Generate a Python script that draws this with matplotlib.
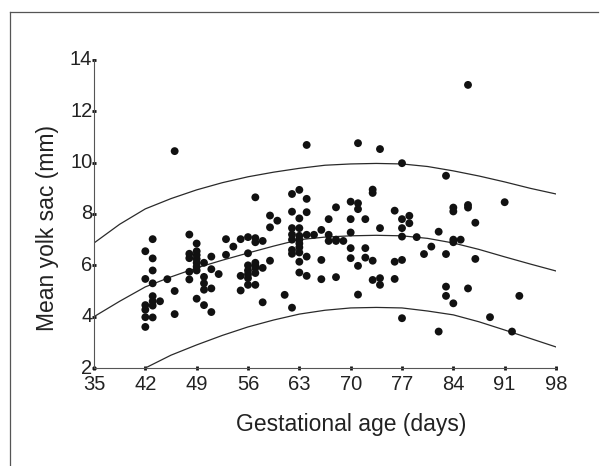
import numpy as np
import matplotlib

matplotlib.use("AGG")
from matplotlib import pyplot
from matplotlib.lines import Line2D
from matplotlib.transforms import ScaledTranslation

# gestational age (days) and mean yolk sac diameter (mm)
age_days = [42] * 6 + [43] * 8 + [44, 45] + [46] * 3 + [48] * 5 + [49] * 8 + \
    [50] * 5 + [51] * 4 + [52] + [53] * 2 + [54] + [55] * 3 + [56] * 7 + \
    [57] * 8 + [58] * 3 + [59] * 3 + [60, 61] + [62] * 8 + [63] * 10 + \
    [64] * 6 + [65] + [66] * 3 + [67] * 3 + [68] * 4 + [69] + [70] * 5 + \
    [71] * 5 + [72] * 3 + [73] * 4 + [74] * 4 + [76] * 3 + [77] * 6 + \
    [78] * 2 + [79, 80, 81] + [82] * 2 + [83] * 4 + [84] * 5 + [85] + \
    [86] * 4 + [87] * 2 + [89, 91, 92, 93]
yolk_mm = [6.55, 5.47, 4.45, 4.27, 3.98, 3.6,
           7.02, 6.27, 5.8, 5.3, 4.8, 4.6, 4.43, 3.97,
           4.6, 5.46,
           10.45, 5.0, 4.1,
           7.2, 6.45, 6.28, 5.75, 5.45,
           6.85, 6.55, 6.4, 6.25, 6.1, 5.95, 5.8, 4.7,
           6.1, 5.55, 5.3, 5.05, 4.45,
           6.34, 5.85, 5.1, 4.18,
           5.66,
           7.02, 6.41,
           6.73,
           7.02, 5.59, 5.02,
           7.1, 6.47, 6.0, 5.8, 5.65, 5.5, 5.24,
           8.65, 7.06, 6.9, 6.1, 6.0, 5.9, 5.7, 5.24,
           6.95, 5.9, 4.56,
           7.94, 7.48, 6.18,
           7.74, 4.85,
           8.78, 8.09, 7.45, 7.2, 7.0, 6.6, 6.45, 4.35,
           8.94, 7.83, 7.45, 7.15, 7.0, 6.85, 6.7, 6.5, 6.14, 5.72,
           10.69, 8.59, 8.07, 7.19, 6.34, 5.59,
           7.19,
           7.38, 6.21, 5.46,
           7.8, 7.19, 6.95,
           8.26, 7.0, 6.95, 5.54,
           6.95,
           8.48, 7.8, 7.28, 6.67, 6.28,
           10.76, 8.42, 8.19, 5.98, 4.86,
           7.8, 6.67, 6.3,
           8.95, 8.82, 6.18, 5.43,
           10.53, 7.45, 5.5, 5.24,
           8.13, 6.14, 5.47,
           9.98, 7.8, 7.45, 7.12, 6.21, 3.94,
           7.93, 7.64,
           7.1, 6.44, 6.73,
           7.31, 3.42,
           9.49, 6.44, 5.17, 4.81,
           8.25, 8.1, 7.0, 6.9, 4.52,
           7.0,
           13.03, 8.35, 8.25, 5.1,
           7.66, 6.25,
           3.98, 8.46, 3.42, 4.81]

# reference curves (mean and limits), read at half-week steps
curve_days = [35, 38.5, 42, 45.5, 49, 52.5, 56, 59.5, 63, 66.5, 70, 73.5,
              77, 80.5, 84, 87.5, 91, 94.5, 98]
curve_mean = [4.0, 4.6, 5.16, 5.55, 5.9, 6.2, 6.48, 6.75, 7.0, 7.1, 7.15,
              7.17, 7.15, 7.05, 6.87, 6.62, 6.33, 6.05, 5.78]
curve_upper = [6.87, 7.6, 8.2, 8.6, 8.94, 9.22, 9.45, 9.63, 9.78, 9.9, 9.95,
               9.97, 9.95, 9.85, 9.68, 9.48, 9.25, 9.0, 8.78]
curve_lower = [1.0, 1.5, 2.0, 2.5, 2.9, 3.27, 3.6, 3.87, 4.1, 4.25, 4.34,
               4.36, 4.34, 4.22, 4.07, 3.8, 3.48, 3.15, 2.82]

x_ticks = list(range(35, 99, 7))
y_ticks = list(range(2, 15, 2))

pyplot.rcParams["font.family"] = ["Liberation Sans", "DejaVu Sans"]

fig = pyplot.figure(figsize=(6.02, 4.66), dpi=100)
ax = fig.add_axes([94 / 602, 1 - 368 / 466, 462 / 602, 308 / 466])

for c in (curve_upper, curve_mean, curve_lower):
    ax.plot(curve_days, c, color="#2a2a2a", linewidth=0.9)

ax.scatter(age_days, yolk_mm, s=32, color="#111111", edgecolors="none",
           zorder=3, clip_on=False)

ax.set_xlim(35, 98)
ax.set_ylim(2, 14)
ax.set_xticks(x_ticks)
ax.set_yticks(y_ticks)
ax.spines["top"].set_visible(False)
ax.spines["right"].set_visible(False)
for s in ("left", "bottom"):
    ax.spines[s].set_color("#555555")
    ax.spines[s].set_linewidth(0.8)
ax.tick_params(axis="both", length=2.5, width=2, color="#111111",
               direction="inout", labelsize=14.5, labelcolor="#222222")
ax.tick_params(axis="y", pad=0)
ax.tick_params(axis="x", pad=4)

# lift the y labels a touch so "2" clears "35"
for lbl in ax.get_yticklabels():
    lbl.set_transform(lbl.get_transform() +
                      ScaledTranslation(0, 2 / 100, fig.dpi_scale_trans))

ax.set_xlabel("Gestational age (days)", fontsize=16.5, color="#222222")
ax.set_ylabel("Mean yolk sac (mm)", fontsize=16.5, color="#222222")
ax.xaxis.set_label_coords(0.556, -0.185)
ax.xaxis.label.set_va("center")
ax.yaxis.set_label_coords(-0.0996, 0.4545)
ax.yaxis.label.set_va("center")

# scan frame (top and left edges)
fig.add_artist(Line2D([10 / 602, 10 / 602], [0, 1 - 12 / 466],
                      transform=fig.transFigure, color="#555555", lw=0.9))
fig.add_artist(Line2D([10 / 602, 598 / 602], [1 - 12 / 466, 1 - 12 / 466],
                      transform=fig.transFigure, color="#555555", lw=0.9))

fig.savefig("out.png", dpi=100)
pyplot.close()
